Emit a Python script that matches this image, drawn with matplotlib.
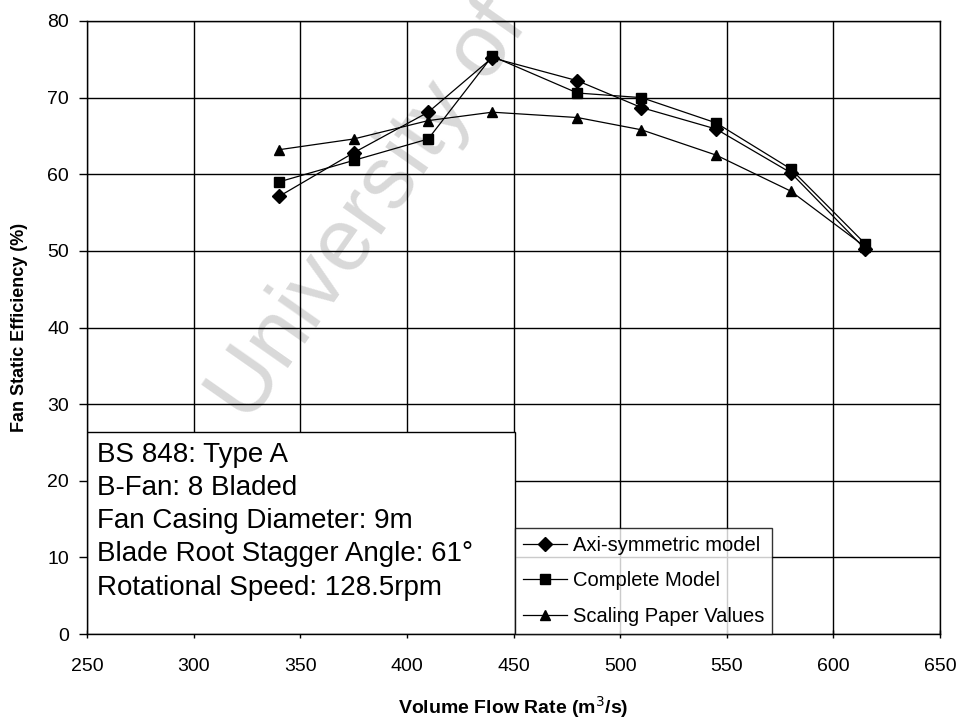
import matplotlib
matplotlib.use("Agg")
import matplotlib.pyplot as plt
from matplotlib.patches import Rectangle
from matplotlib.transforms import IdentityTransform

# Volume flow rate (m^3/s)
flow = [340, 375, 410, 440, 480, 510, 545, 580, 615]

# Fan static efficiency (%)
axi_symmetric = [57.1, 62.8, 68.1, 75.2, 72.2, 68.7, 65.9, 60.2, 50.2]
complete_model = [59.0, 61.8, 64.6, 75.4, 70.6, 70.0, 66.7, 60.7, 50.9]
scaling_paper = [63.2, 64.6, 67.0, 68.1, 67.4, 65.8, 62.5, 57.8, 50.5]

series_labels = ["Axi-symmetric model", "Complete Model", "Scaling Paper Values"]
series_markers = ["D", "s", "^"]

info_lines = [
    "BS 848: Type A",
    "B-Fan: 8 Bladed",
    "Fan Casing Diameter: 9m",
    "Blade Root Stagger Angle: 61°",
    "Rotational Speed: 128.5rpm",
]

x_ticks = list(range(250, 651, 50))
y_ticks = list(range(0, 81, 10))

plt.rcParams["font.family"] = ["Liberation Sans", "DejaVu Sans"]

fig = plt.figure(figsize=(9.6, 7.19), dpi=100)
ax = fig.add_axes([0.0906, 0.1182, 0.9792 - 0.0906, 0.9708 - 0.1182])

ax.set_xlim(250, 650)
ax.set_ylim(0, 80)
ax.set_xticks(x_ticks)
ax.set_yticks(y_ticks)
ax.grid(True, color="black", linewidth=1.0, zorder=1)
ax.set_axisbelow(True)
for s in ax.spines.values():
    s.set_linewidth(1.0)
    s.set_zorder(6)

ax.tick_params(axis="y", direction="out", length=6, width=1.0, pad=7, labelsize=14)
ax.tick_params(axis="x", direction="inout", length=6, width=1.0, pad=14, labelsize=14)

# faint diagonal watermark (pixel-positioned)
wm = ax.text(0, 0, "University of Cape Town", fontsize=64,
             color="#d9d9d9", rotation=55, rotation_mode="anchor",
             ha="left", va="baseline", zorder=0.5, clip_on=False)
wm.set_transform(IdentityTransform())
wm.set_position((248, 719 - 425))

series = [axi_symmetric, complete_model, scaling_paper]
handles = []
for vals, lab, mk in zip(series, series_labels, series_markers):
    ms = 6.8 if mk == "D" else 7.5
    h, = ax.plot(flow, vals, color="black", linewidth=0.9, marker=mk,
                 markersize=ms, markerfacecolor="black", markeredgecolor="black",
                 label=lab, zorder=3)
    handles.append(h)

# information box in the lower-left corner
box_top = 26.4
box_right = 450.5
ax.add_patch(Rectangle((250, 0), box_right - 250, box_top, facecolor="white",
                       edgecolor="black", linewidth=1.0, zorder=4))
line_ys = [23.4, 19.0, 14.7, 10.4, 6.0]
for txt, yv in zip(info_lines, line_ys):
    ax.text(254.5, yv, txt, fontsize=20, ha="left", va="center", zorder=5)

leg = ax.legend(handles=handles, loc="lower left",
                bbox_to_anchor=((box_right - 250) / 400, 0.0),
                frameon=True, fancybox=False, edgecolor="black",
                fontsize=14.5, handlelength=2.2, handletextpad=0.3,
                borderpad=0.4, labelspacing=0.82, borderaxespad=0.0)
leg.get_frame().set_linewidth(1.0)
leg.set_zorder(7)

ax.set_xlabel("Volume Flow Rate (m$^3$/s)", fontsize=14, fontweight="bold", labelpad=14)
ax.set_ylabel("Fan Static Efficiency (%)", fontsize=13, fontweight="bold", labelpad=14)

fig.savefig("out.png", dpi=100)
